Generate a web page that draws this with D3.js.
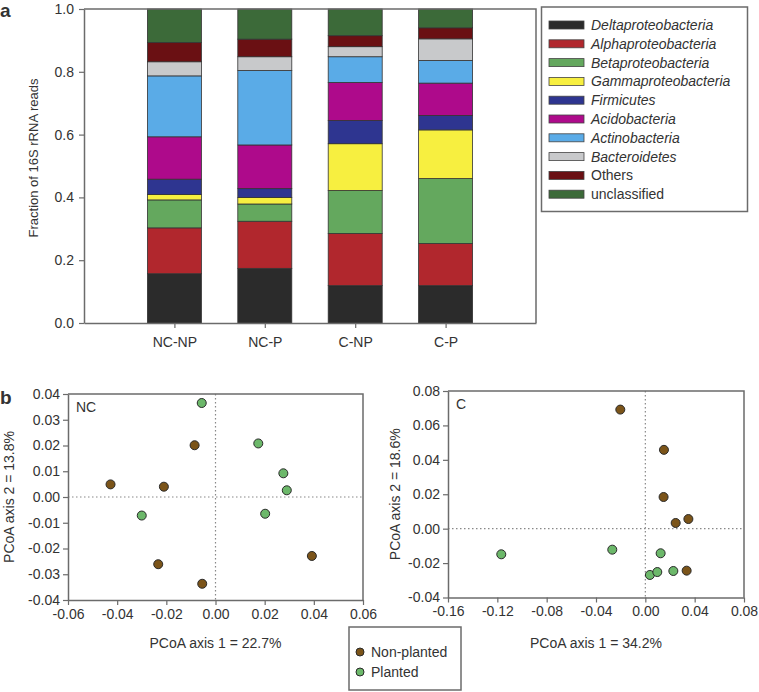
<!DOCTYPE html>
<html><head><meta charset="utf-8">
<script src="https://cdn.jsdelivr.net/npm/d3@7/dist/d3.min.js"></script>
<style>
body{margin:0;background:#fff}
text{font-family:"Liberation Sans",Arial,Helvetica,sans-serif;fill:#333}
</style>
</head><body>
<svg id="c" width="759" height="692"></svg>
<script>
// ---- Panel a data ----
const samples = ["NC-NP", "NC-P", "C-NP", "C-P"];
const taxa = ["Deltaproteobacteria","Alphaproteobacteria","Betaproteobacteria","Gammaproteobacteria","Firmicutes","Acidobacteria","Actinobacteria","Bacteroidetes","Others","unclassified"];
const italicTaxa = [true,true,true,true,true,true,true,true,false,false];
const taxaColors = ["#2b2b2b","#b1272d","#64a85e","#f7ef40","#2e3590","#ae0a8b","#5aabe7","#c8c9cb","#6a1013","#3c6a39"];
const deltaproteobacteria = [0.157, 0.174, 0.119, 0.119];
const alphaproteobacteria = [0.146, 0.150, 0.166, 0.134];
const betaproteobacteria  = [0.089, 0.055, 0.137, 0.207];
const gammaproteobacteria = [0.017, 0.021, 0.149, 0.155];
const firmicutes          = [0.049, 0.028, 0.074, 0.046];
const acidobacteria       = [0.135, 0.139, 0.121, 0.103];
const actinobacteria      = [0.194, 0.237, 0.082, 0.072];
const bacteroidetes       = [0.045, 0.044, 0.032, 0.069];
const others              = [0.061, 0.056, 0.035, 0.035];
const unclassified        = [0.107, 0.096, 0.085, 0.060];
const fractionTicks = [0, 0.2, 0.4, 0.6, 0.8, 1.0];

// ---- Panel b data ----
const ncNonPlantedX = [-0.0427, -0.0210, -0.0085, -0.0233, -0.0054, 0.0392];
const ncNonPlantedY = [0.0049, 0.0040, 0.0201, -0.0261, -0.0337, -0.0229];
const ncPlantedX = [-0.0056, 0.0174, 0.0276, 0.0290, 0.0202, -0.0300];
const ncPlantedY = [0.0365, 0.0208, 0.0092, 0.0026, -0.0065, -0.0072];
const cNonPlantedX = [-0.0203, 0.0151, 0.0148, 0.0246, 0.0349, 0.0335];
const cNonPlantedY = [0.0692, 0.0458, 0.0184, 0.0033, 0.0056, -0.0244];
const cPlantedX = [-0.1168, -0.0268, 0.0124, 0.0037, 0.0097, 0.0227];
const cPlantedY = [-0.0149, -0.0122, -0.0143, -0.0269, -0.0252, -0.0246];
const ncXTicks = [-0.06,-0.04,-0.02,0,0.02,0.04,0.06];
const ncYTicks = [-0.04,-0.03,-0.02,-0.01,0,0.01,0.02,0.03,0.04];
const cXTicks = [-0.16,-0.12,-0.08,-0.04,0,0.04,0.08];
const cYTicks = [-0.04,-0.02,0,0.02,0.04,0.06,0.08];
const groupNames = ["Non-planted","Planted"];
const groupColors = ["#7b5419","#6cb86a"];

const svg = d3.select("#c");
const axisColor = "#6b6b6b";
const fmt2 = d => d3.format(".2f")(d).replace("\u2212","-");

function styleAxis(g){
  g.select(".domain").attr("stroke", axisColor).attr("stroke-width", 1.5);
  g.selectAll(".tick line").attr("stroke", axisColor).attr("stroke-width", 1.2);
  g.selectAll(".tick text").attr("font-size", 14).attr("fill", "#333")
    .style("font-family", '"Liberation Sans",Arial,sans-serif');
}

// ================= Panel a =================
const ax = {l: 84, r: 536, t: 9, b: 323};
const x = d3.scalePoint().domain(samples).range([ax.l, ax.r]).padding(1);
const y = d3.scaleLinear().domain([0, 1]).range([ax.b, ax.t]);
const barW = 54;

const taxaValues = [deltaproteobacteria, alphaproteobacteria, betaproteobacteria, gammaproteobacteria, firmicutes, acidobacteria, actinobacteria, bacteroidetes, others, unclassified];
const rows = samples.map((s, i) => {
  const o = {sample: s};
  taxa.forEach((t, k) => o[t] = taxaValues[k][i]);
  return o;
});
const series = d3.stack().keys(taxa)(rows);

const gA = svg.append("g");
series.forEach((ser, k) => {
  gA.append("g").selectAll("rect").data(ser).join("rect")
    .attr("x", d => x(d.data.sample) - barW/2)
    .attr("width", barW)
    .attr("y", d => y(d[1]))
    .attr("height", d => y(d[0]) - y(d[1]))
    .attr("fill", taxaColors[k])
    .attr("stroke", "#333").attr("stroke-width", 0.8);
});
// frame top/right
gA.append("path").attr("d", `M${ax.l},${ax.t}H${ax.r}V${ax.b}`)
  .attr("fill","none").attr("stroke", axisColor).attr("stroke-width", 1.5);
const yAxA = gA.append("g").attr("transform", `translate(${ax.l},0)`)
  .call(d3.axisLeft(y).tickValues(fractionTicks).tickFormat(d3.format(".1f")).tickSize(5).tickSizeOuter(0).tickPadding(5));
styleAxis(yAxA);
const xAxA = gA.append("g").attr("transform", `translate(0,${ax.b})`)
  .call(d3.axisBottom(x).tickSize(5).tickSizeOuter(0).tickPadding(9));
styleAxis(xAxA);
gA.append("text").attr("transform", "translate(38,158) rotate(-90)")
  .attr("text-anchor","middle").attr("font-size", 13).text("Fraction of 16S rRNA reads");
svg.append("text").attr("x", 0).attr("y", 17).attr("font-size", 19).attr("font-weight","bold").attr("fill","#111").text("a");

// legend a
const legA = svg.append("g");
legA.append("rect").attr("x", 541.5).attr("y", 7).attr("width", 206).attr("height", 204.5)
  .attr("fill","#fff").attr("stroke", axisColor).attr("stroke-width", 1.5);
taxa.forEach((t, k) => {
  const yy = 25 + k * 18.8;
  legA.append("rect").attr("x", 549).attr("y", yy - 4).attr("width", 35).attr("height", 8)
    .attr("fill", taxaColors[k]).attr("stroke", "#444").attr("stroke-width", 0.8);
  legA.append("text").attr("x", 591).attr("y", yy + 5).attr("font-size", 14)
    .attr("font-style", italicTaxa[k] ? "italic" : "normal").text(t);
});

// ================= Panel b =================
function scatterPanel(opt){
  const g = svg.append("g");
  const sx = d3.scaleLinear().domain(opt.xd).range([opt.l, opt.r]);
  const sy = d3.scaleLinear().domain(opt.yd).range([opt.b, opt.t]);
  // dotted zero lines
  g.append("line").attr("x1", sx(0)).attr("x2", sx(0)).attr("y1", opt.t).attr("y2", opt.b)
    .attr("stroke","#888").attr("stroke-width",1.2).attr("stroke-dasharray","1.5,2.5");
  g.append("line").attr("x1", opt.l).attr("x2", opt.r).attr("y1", sy(0)).attr("y2", sy(0))
    .attr("stroke","#888").attr("stroke-width",1.2).attr("stroke-dasharray","1.5,2.5");
  g.append("path").attr("d", `M${opt.l},${opt.t}H${opt.r}V${opt.b}`)
    .attr("fill","none").attr("stroke", axisColor).attr("stroke-width", 1.5);
  const ya = g.append("g").attr("transform", `translate(${opt.l},0)`)
    .call(d3.axisLeft(sy).tickValues(opt.yt).tickFormat(fmt2).tickSize(5).tickSizeOuter(0).tickPadding(3));
  styleAxis(ya);
  const xa = g.append("g").attr("transform", `translate(0,${opt.b})`)
    .call(d3.axisBottom(sx).tickValues(opt.xt).tickFormat(fmt2).tickSize(5).tickSizeOuter(0).tickPadding(4));
  styleAxis(xa);
  opt.groups.forEach((grp, k) => {
    g.append("g").selectAll("circle").data(grp.x.map((v, i) => [v, grp.y[i]])).join("circle")
      .attr("cx", d => sx(d[0])).attr("cy", d => sy(d[1])).attr("r", 4.5)
      .attr("fill", groupColors[k]).attr("stroke", "#2a2a2a").attr("stroke-width", 1);
  });
  g.append("text").attr("x", opt.l + 8).attr("y", opt.t + 18).attr("font-size", 14).text(opt.label);
  g.append("text").attr("x", (opt.l + opt.r)/2).attr("y", 648).attr("text-anchor","middle")
    .attr("font-size", 14).text(opt.xtitle);
  g.append("text").attr("transform", `translate(${opt.ytx},${(opt.t+opt.b)/2}) rotate(-90)`)
    .attr("text-anchor","middle").attr("font-size", 14).text(opt.ytitle);
}

scatterPanel({l: 68, r: 363, t: 394, b: 600, xd: [-0.06, 0.06], yd: [-0.04, 0.04],
  xt: ncXTicks, yt: ncYTicks, label: "NC", xtitle: "PCoA axis 1 = 22.7%", ytitle: "PCoA axis 2 = 13.8%", ytx: 14,
  groups: [{x: ncNonPlantedX, y: ncNonPlantedY}, {x: ncPlantedX, y: ncPlantedY}]});
scatterPanel({l: 448, r: 744, t: 391, b: 597.5, xd: [-0.16, 0.08], yd: [-0.04, 0.08],
  xt: cXTicks, yt: cYTicks, label: "C", xtitle: "PCoA axis 1 = 34.2%", ytitle: "PCoA axis 2 = 18.6%", ytx: 400,
  groups: [{x: cNonPlantedX, y: cNonPlantedY}, {x: cPlantedX, y: cPlantedY}]});

svg.append("text").attr("x", 0).attr("y", 404).attr("font-size", 19).attr("font-weight","bold").attr("fill","#111").text("b");

// legend b
const legB = svg.append("g");
legB.append("rect").attr("x", 349).attr("y", 627).attr("width", 112).attr("height", 63)
  .attr("fill","#fff").attr("stroke", axisColor).attr("stroke-width", 1.5);
groupNames.forEach((n, k) => {
  const yy = 652 + k * 20;
  legB.append("circle").attr("cx", 360).attr("cy", yy).attr("r", 4)
    .attr("fill", groupColors[k]).attr("stroke", "#2a2a2a").attr("stroke-width", 1);
  legB.append("text").attr("x", 371).attr("y", yy + 5).attr("font-size", 14).text(n);
});
</script>
</body></html>
